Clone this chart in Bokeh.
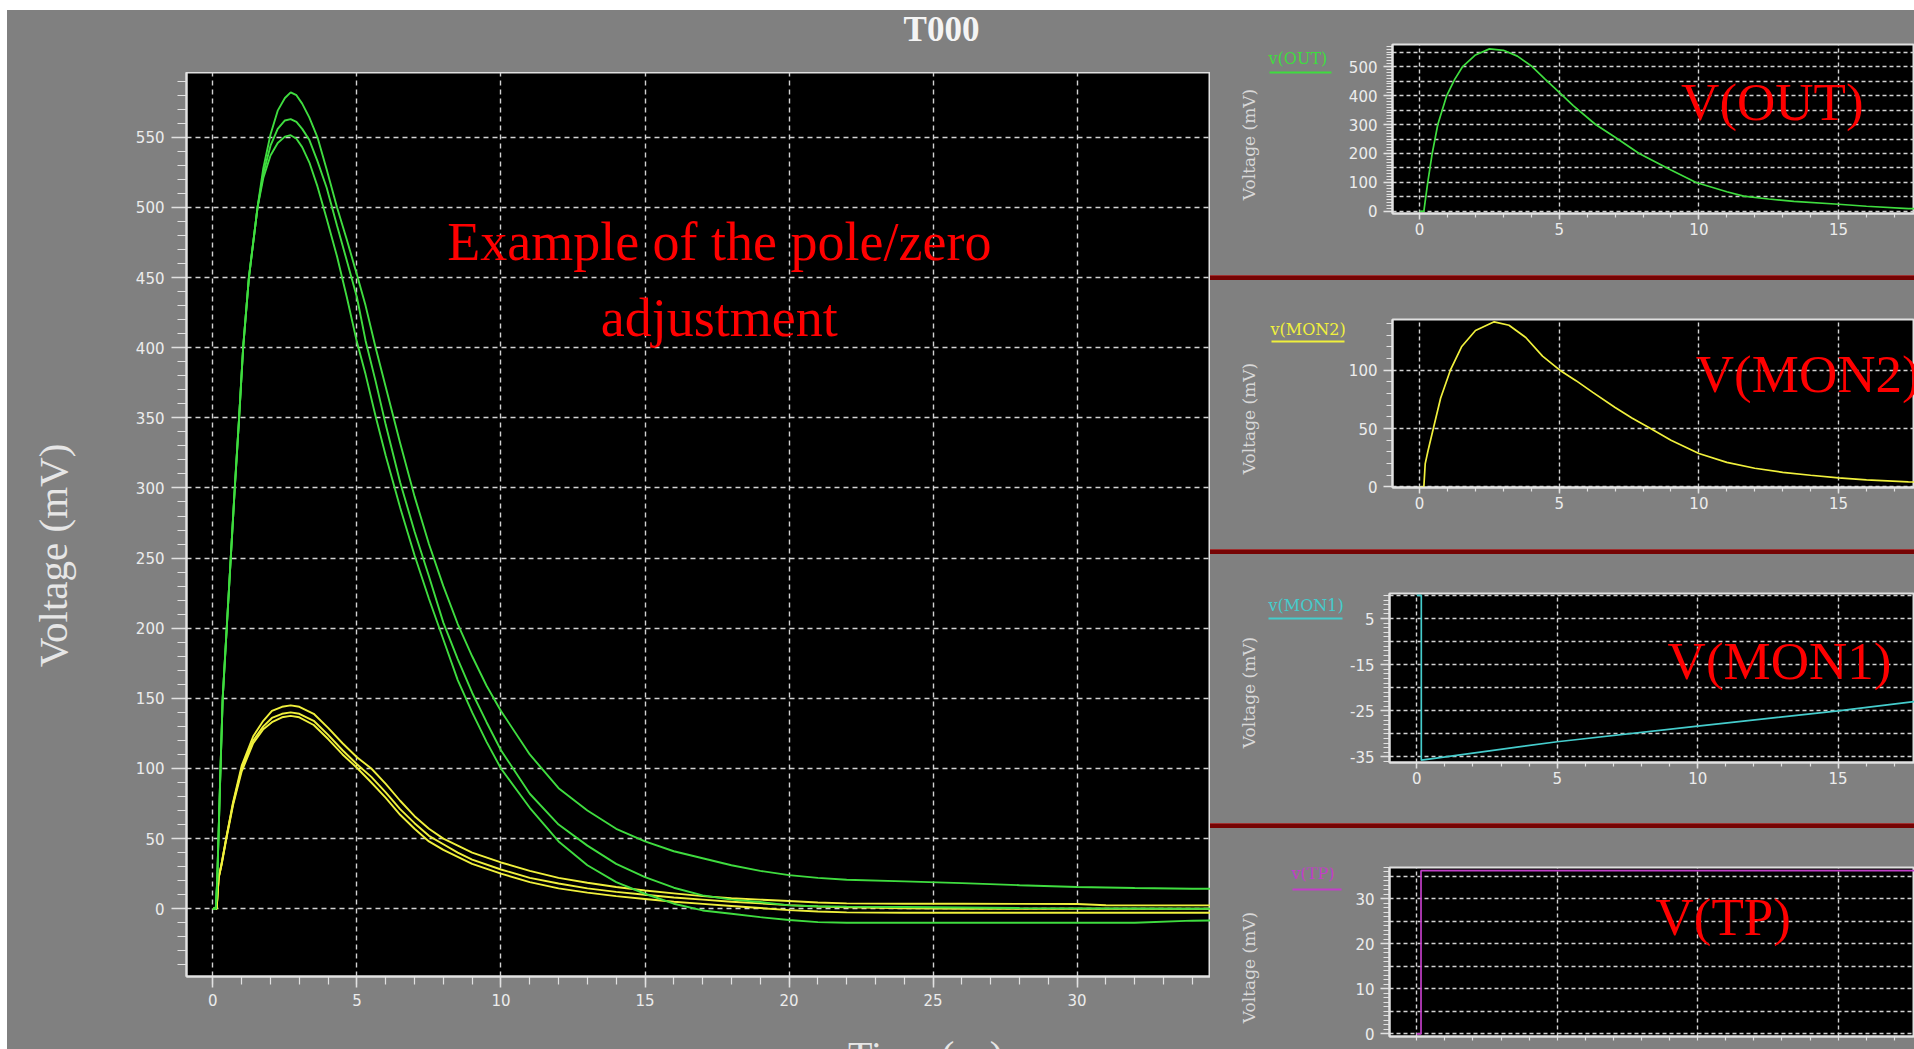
import math
from bokeh.plotting import figure
from bokeh.layouts import row, column
from bokeh.models import Label, FixedTicker, Range1d, Spacer, Div
from bokeh.embed import file_html
from bokeh.resources import INLINE

# ---------------- data ----------------
# main plot: time (us)
T_MAIN = [0, 0.1, 0.15, 0.25, 0.34, 0.48, 0.62, 0.76, 0.91, 1.05, 1.25, 1.55, 1.75, 2.0, 2.25,
          2.5, 2.7, 2.9, 3.1, 3.35, 3.63, 3.95, 4.31, 4.65, 5.0, 5.3, 5.65, 6.0, 6.5, 7.0,
          7.5, 8.0, 8.5, 9.0, 9.5, 10.0, 11.0, 12.0, 13.0, 14.0, 15.0, 16.0, 17.0, 18.0, 19.0,
          20.0, 21.0, 22.0, 24.0, 26.0, 28.0, 30.0, 32.0, 34.0, 35.0]
# v(OUT) family (green), mV
OUT_HI = [0, 0, 20, 90, 150, 200, 250, 300, 350, 400, 450, 500, 528, 552, 569,
          578, 582, 580, 574, 564, 550, 527, 500, 477, 452, 430, 400, 372, 332, 294,
          260, 230, 203, 180, 159, 141, 110, 86, 70, 57, 48, 41, 36, 31, 27,
          24, 22, 20.7, 19.5, 18.3, 16.8, 15.5, 14.8, 14.3, 14.2]
OUT_MID = [0, 0, 20, 90, 150, 200, 250, 300, 350, 400, 450, 500, 524, 544, 556,
           562, 563, 561, 556, 548, 533, 514, 487, 462, 436, 405, 376, 345, 304, 269,
           237, 204, 178, 154, 133, 113, 82, 60, 45, 32, 22.6, 15, 9.5, 6.5, 4.8,
           2.4, 1.8, 1.5, 1.2, 0.9, 0.5, 0.3, 0.2, 0, 0]
OUT_LO = [0, 0, 20, 90, 150, 200, 250, 300, 350, 400, 450, 500, 521, 537, 546,
          550.5, 551.5, 549, 543, 532, 515, 492, 465, 436, 404, 381, 351, 323, 286, 252,
          221, 192, 163, 140, 119, 100, 72, 48, 31, 19, 10.7, 3.6, -1.2, -3.6, -6,
          -8, -9.5, -10, -10, -10, -10, -10, -10, -8.5, -8.3]
# v(MON2) family (yellow), mV
T_MON = [0, 0.13, 0.2, 0.3, 0.46, 0.7, 1.0, 1.4, 1.75, 2.05, 2.4, 2.7, 3.0, 3.5, 4.0,
         4.5, 5.0, 5.5, 6.0, 6.5, 7.0, 7.5, 8.0, 8.5, 9.0, 10.0, 11.0, 12.0, 13.0, 14.0,
         15.0, 16.0, 17.0, 18.0, 19.0, 20.0, 21.0, 22.0, 24.0, 26.0, 28.0, 30.0, 31.0, 32.0, 34.0, 35.0]
MON2_HI = [0, 0, 22, 32, 50, 76, 102, 123, 134, 141, 144, 145, 144, 139, 129,
           118, 108, 100, 89, 77, 66, 57, 50, 45, 40, 33, 27, 22, 18.5, 15.5,
           13, 11, 9, 7.5, 6.5, 5.5, 4.5, 3.8, 3.6, 3.6, 3.5, 3.4, 2.5, 2.4, 2.4, 2.4]
MON2_MID = [0, 0, 22, 32, 50, 75, 100, 120, 130, 136, 139, 140, 139, 134, 124,
            113, 103, 94, 83, 71, 61, 52, 46, 40, 35, 28, 22, 18, 14.5, 12,
            10, 8, 6.5, 5, 3.8, 2.6, 1.6, 1, 0.3, 0, 0, 0, 0, 0, 0, 0]
MON2_LO = [0, 0, 22, 31, 49, 74, 98, 118, 128, 133, 136.5, 137.5, 136.5, 131, 121,
           110, 100.5, 90, 79, 67, 57, 48, 42, 37, 32, 25, 19, 14.5, 11.5, 9,
           7, 5, 3.5, 2, 0.5, -1, -2, -2.6, -2.9, -2.9, -2.9, -2.9, -2.9, -2.9, -2.9, -2.9]

# small panels
T_OUT = [0, 0.15, 0.29, 0.45, 0.65, 0.97, 1.25, 1.54, 2.0, 2.5, 3.0, 3.5, 4.0, 4.5, 5.0,
         5.5, 6.3, 7.0, 7.86, 9.0, 9.9, 11.0, 11.6, 12.5, 13.4, 15.0, 16.0, 17.5, 19.0, 20.0]
V_OUT = [0, 0, 100, 200, 300, 400, 455, 500, 540, 561, 556, 536, 502, 456, 411,
         365, 300, 256, 200, 143, 100, 68, 53, 43, 35, 25, 18, 10, 7, 6]
T_MON2 = [0, 0.15, 0.2, 0.3, 0.49, 0.75, 1.1, 1.5, 2.0, 2.67, 3.2, 3.8, 4.4, 5.02, 5.6,
          6.2, 7.0, 7.6, 8.27, 9.0, 10.0, 11.0, 12.0, 13.0, 14.0, 15.0, 16.0, 17.5, 19.0, 20.0]
V_MON2 = [0, 0, 20, 31, 50, 76, 100, 120, 134, 141.4, 138.5, 128, 112, 100, 91,
          81, 68, 59, 50, 40, 28.6, 21, 16, 12.5, 10, 7.7, 6, 4.3, 3.5, 3]
T_MON1 = [0, 0.16, 0.16, 0.5, 5.0, 10.0, 15.0, 17.7, 20.0]
V_MON1 = [0, 0, -35.7, -35.4, -31.7, -28.3, -25.0, -23.0, -21.5]
T_TP = [0, 0.15, 0.15, 20.0]
V_TP = [0, 0, 36.3, 36.3]

# ticks / labels
MAIN_X_TICKS = [0, 5, 10, 15, 20, 25, 30]
MAIN_Y_TICKS = [0, 50, 100, 150, 200, 250, 300, 350, 400, 450, 500, 550]
PANEL_X_TICKS = [0, 5, 10, 15]
OUT_Y_TICKS = [0, 100, 200, 300, 400, 500]
OUT_Y_GRID = [0, 50, 100, 150, 200, 250, 300, 350, 400, 450, 500, 550]
MON2_Y_TICKS = [0, 50, 100]
MON1_Y_TICKS = [-35, -25, -15, -5]
MON1_Y_LABELS = {-35: "-35", -25: "-25", -15: "-15", -5: "5"}
MON1_Y_GRID = [-35, -30, -25, -20, -15, -10, -5, 0]
TP_Y_TICKS = [0, 10, 20, 30]
TP_Y_GRID = [0, 5, 10, 15, 20, 25, 30, 35]

TITLE = "T000"
X_LABEL = "Time (us)"
Y_LABEL = "Voltage (mV)"
NOTE_1 = "Example of the pole/zero"
NOTE_2 = "adjustment"

# ---------------- styles ----------------
BG = "#808080"
AX = "#e2e2e2"
TXT = "#ececec"
GRID = "#d2d2d2"
GREEN = "#3fdc3f"
YELLOW = "#f0f03c"
CYAN = "#45cccc"
MAGENTA = "#c23ec8"
RED = "#ff0000"
SEP = "#760404"


def style_axis(ax, tick_out, minor_out, standoff, size):
    ax.axis_line_color = AX
    ax.axis_line_width = 2
    ax.major_tick_line_color = AX
    ax.major_tick_line_width = 1.5
    ax.minor_tick_line_color = AX
    ax.minor_tick_line_width = 1.2
    ax.major_tick_in = 0
    ax.minor_tick_in = 0
    ax.major_tick_out = tick_out
    ax.minor_tick_out = minor_out
    ax.major_label_standoff = standoff
    ax.major_label_text_font = "DejaVu Sans"
    ax.major_label_text_font_size = size
    ax.major_label_text_color = TXT


def style_grid(g, dash):
    g.grid_line_color = GRID
    g.grid_line_dash = dash
    g.grid_line_width = 1.4


def text(p, x, y, s, size, color, font="Liberation Serif", align="left",
         baseline="middle", angle=0.0, style="normal"):
    p.add_layout(Label(x=x, y=y, text=s, text_font=font, text_font_size=size,
                       text_color=color, text_align=align, text_baseline=baseline,
                       angle=angle, text_font_style=style))


def blank(w, h, btop=0, bbot=0, color=BG):
    # plain grey strip; coordinates are pixels measured from the strip's top-left corner
    f = figure(width=w, height=h, x_range=Range1d(0, w), y_range=Range1d(h - bbot, btop),
               output_backend="svg", toolbar_location=None, x_axis_location=None,
               y_axis_location=None, background_fill_color=color, border_fill_color=color,
               outline_line_color=None, min_border_left=0, min_border_right=0,
               min_border_top=btop, min_border_bottom=bbot)
    f.grid.visible = False
    return f


# ---------------- main plot ----------------
main = figure(width=1092, height=944, x_range=Range1d(-0.916, 34.63),
              y_range=Range1d(-48.3, 596.2), output_backend="svg", toolbar_location=None,
              background_fill_color="black", border_fill_color=BG,
              outline_line_color="#e0e0e0", outline_line_width=2,
              min_border_left=68, min_border_right=0, min_border_top=0, min_border_bottom=40)

for ys in (MON2_HI, MON2_MID, MON2_LO):
    main.line(T_MON, ys, line_color=YELLOW, line_width=1.9)
for ys in (OUT_HI, OUT_MID, OUT_LO):
    main.line(T_MAIN, ys, line_color=GREEN, line_width=1.9)

main.xaxis.ticker = FixedTicker(ticks=MAIN_X_TICKS, minor_ticks=list(range(0, 35)))
main.yaxis.ticker = FixedTicker(ticks=MAIN_Y_TICKS, minor_ticks=list(range(-40, 600, 10)))
style_axis(main.xaxis[0], 11, 8, 6, "15px")
style_axis(main.yaxis[0], 15, 9, 7, "15px")
style_grid(main.xgrid[0], "5 4")
style_grid(main.ygrid[0], "5 4")
text(main, 17.58, 475.4, NOTE_1, "54px", RED, align="center")
text(main, 17.58, 421.5, NOTE_2, "54px", RED, align="center")

top_strip = blank(1203, 62)
text(top_strip, 934, 19, TITLE, "35px", "#f4f4f4", align="center", style="bold")
left_strip = blank(111, 944, 0, 40)
text(left_strip, 45, 483, Y_LABEL, "41px", "#e6e6e6", align="center", angle=math.pi / 2)
bottom_strip = blank(1203, 33)
text(bottom_strip, 918, 16, X_LABEL, "40px", "#e6e6e6", align="center", baseline="top")

left_part = column(top_strip, row(left_strip, main), bottom_strip)

# ---------------- right panels ----------------
RIGHT_W = 704
LB_W = 135
FRAME_LEFT = 179          # panel frame left edge, measured from the right column's left edge
PX0, PX1 = -0.972, 17.72  # x range of the small panels


def make_panel(h, btop, bbot, yr, t, v, color, yticks, ygrid, yminor, name, big,
               big_x, big_y, big_align, leg_x, leg_y, ul_x0, ul_x1, ul_y, vl_y,
               overrides=None, x_labels=True):
    p = figure(width=RIGHT_W - LB_W, height=h, x_range=Range1d(PX0, PX1), y_range=Range1d(*yr),
               output_backend="svg", toolbar_location=None, background_fill_color="black",
               border_fill_color=BG, outline_line_color="#e0e0e0", outline_line_width=2,
               min_border_left=FRAME_LEFT - LB_W, min_border_right=0, min_border_top=btop,
               min_border_bottom=bbot)
    p.line(t, v, line_color=color, line_width=1.7)
    if x_labels:
        p.xaxis.ticker = FixedTicker(ticks=PANEL_X_TICKS, minor_ticks=list(range(1, 18)))
    else:
        p.xaxis.ticker = FixedTicker(ticks=[], minor_ticks=list(range(0, 18)))
    p.xgrid.ticker = FixedTicker(ticks=PANEL_X_TICKS)
    p.yaxis.ticker = FixedTicker(ticks=yticks, minor_ticks=yminor)
    p.ygrid.ticker = FixedTicker(ticks=ygrid)
    style_axis(p.xaxis[0], 6, 4, 3, "15px")
    style_axis(p.yaxis[0], 9, 6, 6, "15px")
    if overrides:
        p.yaxis.major_label_overrides = overrides
    style_grid(p.xgrid[0], "4 3")
    style_grid(p.ygrid[0], "4 3")
    text(p, big_x, big_y, big, "53px", RED, align=big_align)

    lb = blank(LB_W, h, btop, bbot)
    text(lb, 38, vl_y, Y_LABEL, "17px", "#d8d8d8", font="DejaVu Serif", align="center",
         angle=math.pi / 2)
    text(lb, leg_x, leg_y, name, "16px", color, font="DejaVu Serif")
    lb.segment(x0=[ul_x0], y0=[ul_y], x1=[ul_x1], y1=[ul_y], line_color=color, line_width=2)
    return row(lb, p)


def separator():
    return Div(text="", width=RIGHT_W, height=5, margin=0,
               styles={"background-color": SEP, "border-top": "1px solid #a03030"})


p1 = make_panel(265, 34, 62, (-7, 576), T_OUT, V_OUT, GREEN, OUT_Y_TICKS, OUT_Y_GRID,
                list(range(0, 580, 10)), "v(OUT)", "V(OUT)", 12.63, 377.7, "center",
                58, 48, 59, 121, 62, 134)
p2 = make_panel(269, 39, 62, (-0.5, 143.4), T_MON2, V_MON2, YELLOW, MON2_Y_TICKS, MON2_Y_TICKS,
                list(range(0, 145, 10)), "v(MON2)", "V(MON2)", 9.89, 96.9, "left",
                60, 49, 61, 134, 61, 138)
p3 = make_panel(269, 39, 61, (-36.2, 0.42), T_MON1, V_MON1, CYAN, MON1_Y_TICKS, MON1_Y_GRID,
                list(range(-36, 1, 1)), "v(MON1)", "V(MON1)", 8.93, -14.27, "left",
                58, 51, 58, 132, 64, 138, overrides=MON1_Y_LABELS)
p4 = make_panel(215, 39, 7, (-0.6, 37.0), T_TP, V_TP, MAGENTA, TP_Y_TICKS, TP_Y_GRID,
                list(range(0, 38, 1)), "v(TP)", "V(TP)", 8.50, 25.94, "left",
                81, 45, 82, 131, 61, 139, x_labels=False)

# the tick labels of the last panel lie at the very bottom edge of the window: only their tops show
tp_ticks_strip = blank(RIGHT_W, 6)
scale = (RIGHT_W - FRAME_LEFT) / (PX1 - PX0)
for tk in PANEL_X_TICKS:
    text(tp_ticks_strip, FRAME_LEFT + (tk - PX0) * scale, -3, str(tk), "15px", TXT,
         font="DejaVu Sans", align="center", baseline="top")

right_part = column(p1, separator(), p2, separator(), p3, separator(), p4, tp_ticks_strip)
content = row(left_part, right_part, styles={"background-color": BG})
layout = row(Spacer(width=7, height=1049), column(Spacer(width=1907, height=10), content))

open("out.html", "w").write(file_html(layout, INLINE))
